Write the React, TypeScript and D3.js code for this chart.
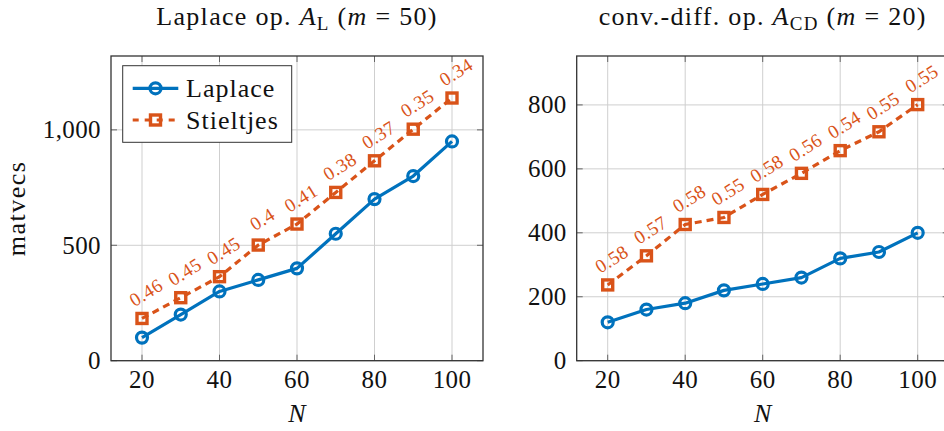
import React from "react";
import * as d3 from "d3";

const N = [20, 30, 40, 50, 60, 70, 80, 90, 100];
const laplaceL = [100, 200, 300, 350, 400, 550, 700, 800, 950];
const stieltjesL = [183, 273, 364, 501, 592, 729, 866, 1003, 1138];
const ratioL = ["0.46", "0.45", "0.45", "0.4", "0.41", "0.38", "0.37", "0.35", "0.34"];
const laplaceR = [120, 160, 180, 220, 240, 260, 320, 340, 400];
const stieltjesR = [237, 328, 426, 448, 520, 586, 657, 716, 801];
const ratioR = ["0.58", "0.57", "0.58", "0.55", "0.58", "0.56", "0.54", "0.55", "0.55"];
const xTicks = [20, 40, 60, 80, 100];
const yTicksL = [0, 500, 1000];
const yTicksR = [0, 200, 400, 600, 800];

const BLUE = "#0072BD";
const ORANGE = "#D95319";
const FONT = "Liberation Serif";
const TXT: React.CSSProperties = { fontFamily: FONT };

type PanelProps = {
  left: number;
  right: number;
  top: number;
  bottom: number;
  yMax: number;
  yTicks: number[];
  lap: number[];
  sti: number[];
  ratios: string[];
  title: React.ReactNode;
  yLabel?: string;
  legend?: boolean;
};

function Panel(p: PanelProps) {
  const x = d3.scaleLinear().domain([12, 108]).range([p.left, p.right]);
  const y = d3.scaleLinear().domain([0, p.yMax]).range([p.bottom, p.top]);
  const fmt = d3.format(",");
  const line = d3
    .line<number>()
    .x((_, i) => x(N[i]))
    .y((d) => y(d));
  const cx = (p.left + p.right) / 2;
  const tickLen = 6;
  return (
    <g>
      {xTicks.map((t) => (
        <line key={"gx" + t} x1={x(t)} x2={x(t)} y1={p.top} y2={p.bottom} stroke="#cfcfcf" strokeWidth={1} />
      ))}
      {p.yTicks.map((t) => (
        <line key={"gy" + t} x1={p.left} x2={p.right} y1={y(t)} y2={y(t)} stroke="#cfcfcf" strokeWidth={1} />
      ))}
      {xTicks.map((t) => (
        <g key={"tx" + t} stroke="#666" strokeWidth={1}>
          <line x1={x(t)} x2={x(t)} y1={p.bottom} y2={p.bottom - tickLen} />
          <line x1={x(t)} x2={x(t)} y1={p.top} y2={p.top + tickLen} />
        </g>
      ))}
      {p.yTicks.map((t) => (
        <g key={"ty" + t} stroke="#666" strokeWidth={1}>
          <line x1={p.left} x2={p.left + tickLen} y1={y(t)} y2={y(t)} />
          <line x1={p.right} x2={p.right - tickLen} y1={y(t)} y2={y(t)} />
        </g>
      ))}
      <rect x={p.left} y={p.top} width={p.right - p.left} height={p.bottom - p.top} fill="none" stroke="#333" strokeWidth={1.3} />
      {xTicks.map((t) => (
        <text key={"lx" + t} style={TXT} x={x(t)} y={388} fontSize={25} letterSpacing={0.4} textAnchor="middle" fill="#111">
          {t}
        </text>
      ))}
      {p.yTicks.map((t) => (
        <text key={"ly" + t} style={TXT} x={p.left - 10} y={y(t) + 8.5} fontSize={25} letterSpacing={0.4} textAnchor="end" fill="#111">
          {fmt(t)}
        </text>
      ))}
      <text style={TXT} x={cx} y={422} fontSize={26} fontStyle="italic" textAnchor="middle" fill="#111">
        N
      </text>
      {p.yLabel && (
        <text style={TXT} transform={`translate(25,${(p.top + p.bottom) / 2}) rotate(-90)`} fontSize={26} letterSpacing={1.5} textAnchor="middle" fill="#111">
          {p.yLabel}
        </text>
      )}
      <text style={TXT} x={cx} y={25} fontSize={26} letterSpacing={1.3} textAnchor="middle" fill="#111">
        {p.title}
      </text>
      <path d={line(p.sti) || ""} fill="none" stroke={ORANGE} strokeWidth={3.2} strokeDasharray="7 5" />
      {p.sti.map((v, i) => (
        <rect key={"sq" + i} x={x(N[i]) - 5} y={y(v) - 5} width={10} height={10} fill="none" stroke={ORANGE} strokeWidth={3.4} />
      ))}
      <path d={line(p.lap) || ""} fill="none" stroke={BLUE} strokeWidth={3.2} strokeLinejoin="round" />
      {p.lap.map((v, i) => (
        <circle key={"c" + i} cx={x(N[i])} cy={y(v)} r={5.5} fill="none" stroke={BLUE} strokeWidth={3.2} />
      ))}
      {p.sti.map((v, i) => (
        <text
          key={"r" + i}
          style={TXT}
          transform={`translate(${x(N[i]) + 4},${y(v) - 26}) rotate(-32)`}
          fontSize={19}
          letterSpacing={0.5}
          textAnchor="middle"
          dominantBaseline="central"
          fill={ORANGE}
        >
          {p.ratios[i]}
        </text>
      ))}
      {p.legend && (
        <g>
          <rect x={p.left + 11.7} y={p.top + 9.7} width={169} height={76.6} fill="#fff" stroke="#333" strokeWidth={1} />
          <line x1={p.left + 21.7} x2={p.left + 67.3} y1={p.top + 32.3} y2={p.top + 32.3} stroke={BLUE} strokeWidth={3.2} />
          <circle cx={p.left + 44.5} cy={p.top + 32.3} r={5.5} fill="none" stroke={BLUE} strokeWidth={3.2} />
          <text style={TXT} x={p.left + 75} y={p.top + 41} fontSize={26} letterSpacing={1} fill="#111">
            Laplace
          </text>
          <line x1={p.left + 21.7} x2={p.left + 67.3} y1={p.top + 64} y2={p.top + 64} stroke={ORANGE} strokeWidth={3.2} strokeDasharray="6 6" />
          <rect x={p.left + 39.5} y={p.top + 59} width={10} height={10} fill="none" stroke={ORANGE} strokeWidth={3.4} />
          <text style={TXT} x={p.left + 75} y={p.top + 73} fontSize={26} letterSpacing={1} fill="#111">
            Stieltjes
          </text>
        </g>
      )}
    </g>
  );
}

export default function App() {
  const titleL = (
    <>
      Laplace op. <tspan fontStyle="italic">A</tspan>
      <tspan fontSize={19} dy={5}>L</tspan>
      <tspan dy={-5}> (</tspan>
      <tspan fontStyle="italic">m</tspan> = 50)
    </>
  );
  const titleR = (
    <>
      conv.-diff. op. <tspan fontStyle="italic">A</tspan>
      <tspan fontSize={19} dy={5}>CD</tspan>
      <tspan dy={-5}> (</tspan>
      <tspan fontStyle="italic">m</tspan> = 20)
    </>
  );
  return (
    <svg width={944} height={431} style={{ position: "absolute", left: 0, top: 0, background: "#fff" }}>
      <rect width={944} height={431} fill="#fff" />
      <Panel
        left={111}
        right={483}
        top={56}
        bottom={360.7}
        yMax={1320}
        yTicks={yTicksL}
        lap={laplaceL}
        sti={stieltjesL}
        ratios={ratioL}
        title={titleL}
        yLabel="matvecs"
        legend
      />
      <Panel
        left={576.7}
        right={948.7}
        top={56}
        bottom={360.7}
        yMax={953}
        yTicks={yTicksR}
        lap={laplaceR}
        sti={stieltjesR}
        ratios={ratioR}
        title={titleR}
      />
    </svg>
  );
}
